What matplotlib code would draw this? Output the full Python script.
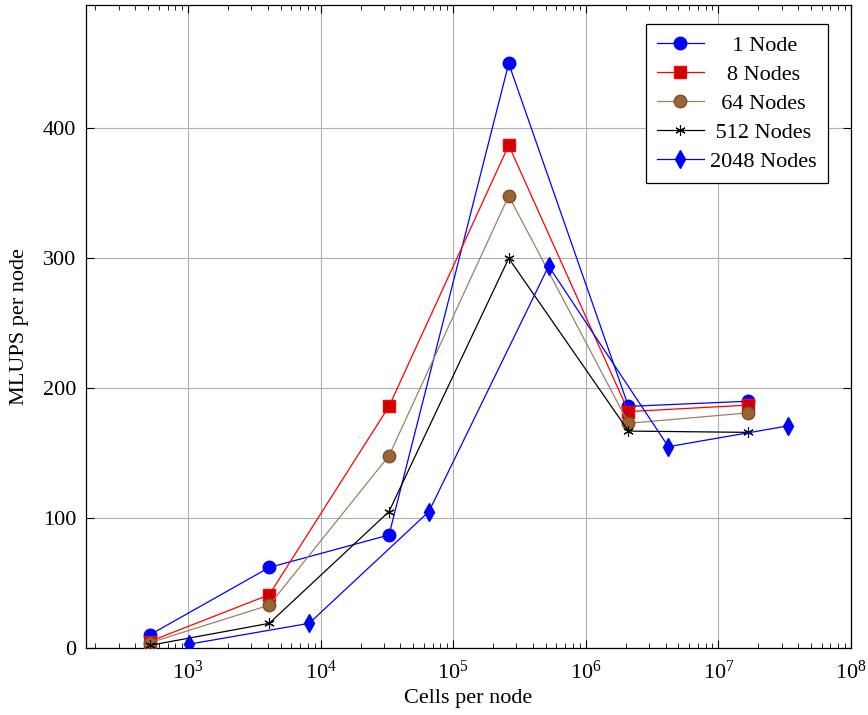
import numpy as np
import matplotlib.pyplot as plt
from matplotlib.ticker import LogLocator, NullFormatter

plt.rcParams['font.family'] = ['Liberation Serif', 'DejaVu Serif']
plt.rcParams['mathtext.fontset'] = 'stix'

# cells per node
cells = [512, 4096, 32768, 262144, 2097152, 16777216]
cells_2048 = [1024, 8192, 65536, 524288, 4194304, 33554432]

# MLUPS per node
mlups_1 = [10, 62, 87, 450, 186, 190]
mlups_8 = [5, 41, 186, 387, 182, 187]
mlups_64 = [4, 33, 148, 348, 173, 181]
mlups_512 = [2, 19, 105, 300, 167, 166]
mlups_2048 = [3, 19, 105, 294, 155, 171]

labels = ['1 Node', '8 Nodes', '64 Nodes', '512 Nodes', '2048 Nodes']
# leading spaces so the legend text looks centred like pgfplots
pad = [4, 3, 2, 1, 0]
leg_labels = [' ' * p + l for p, l in zip(pad, labels)]

fig = plt.figure(figsize=(8.68, 7.15), dpi=100)
ax = fig.add_axes([0.0991, 0.0937, 0.8813, 0.8993])

ax.plot(cells, mlups_1, color='blue', lw=0.9, marker='o', ms=9,
        mfc='blue', mec='blue', label=leg_labels[0], zorder=3)
ax.plot(cells, mlups_8, color='red', lw=0.9, marker='s', ms=8.5,
        mfc='#cc0000', mec='red', label=leg_labels[1], zorder=3)
ax.plot(cells, mlups_64, color='#a08060', lw=0.9, marker='o', ms=9,
        mfc='#996633', mec='#7a5028', label=leg_labels[2], zorder=3)
ax.plot(cells, mlups_512, color='black', lw=0.9, marker=(6, 2, 0), ms=7.5,
        mec='black', mew=0.8, label=leg_labels[3], zorder=3)
ax.plot(cells_2048, mlups_2048, color='blue', lw=0.9, marker='d', ms=9,
        mfc='blue', mec='blue', label=leg_labels[4], zorder=3)

ax.set_xscale('log')
ax.set_xlim(170, 1e8)
ax.set_ylim(0, 495)
ax.set_yticks([0, 100, 200, 300, 400])
ax.xaxis.set_major_locator(LogLocator(base=10, numticks=20))
ax.xaxis.set_minor_locator(LogLocator(base=10, subs=np.arange(2, 10), numticks=100))
ax.xaxis.set_minor_formatter(NullFormatter())

ax.grid(True, which='major', color='#b0b0b0', lw=0.8)
ax.tick_params(which='both', direction='in', top=True, right=True, labelsize=16)
ax.tick_params(which='major', length=6)
ax.tick_params(which='minor', length=3.5)
ax.tick_params(axis='x', which='major', pad=9)
ax.tick_params(axis='y', which='major', pad=7)
for s in ax.spines.values():
    s.set_linewidth(0.9)

ax.set_xlabel('Cells per node', fontsize=16, labelpad=4)
ax.set_ylabel('MLUPS per node', fontsize=16, labelpad=10)

leg = ax.legend(loc='upper right', bbox_to_anchor=(0.970, 0.970), fontsize=16,
                fancybox=False, edgecolor='black', framealpha=1,
                borderaxespad=0, handlelength=2.1, handletextpad=0.3,
                borderpad=0.5, labelspacing=0.38)
leg.get_frame().set_linewidth(0.9)

fig.savefig('out.png', dpi=100)
